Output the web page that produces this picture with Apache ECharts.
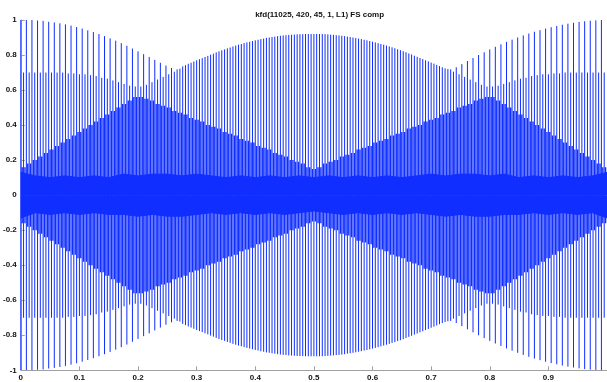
<!DOCTYPE html>
<html>
<head>
<meta charset="utf-8">
<title>kfd(11025, 420, 45, 1, L1) FS comp</title>
<script src="https://cdn.jsdelivr.net/npm/echarts@6/dist/echarts.min.js"></script>
<style>
  html, body { margin: 0; padding: 0; background: #fff; }
  #chart { width: 607px; height: 382px; }
</style>
</head>
<body>
<div id="chart"></div>
<script>
// Pulse peaks repeat every 4 periods of 420 Hz at 11025 Hz => 105 blocks per second.
const blocksPerSecond = 105;

// Peak magnitude of the pulse sampled on-grid (phase offset 0 within each block).
const peakA = [
  1.00, 1.00, 1.00, 0.997, 0.995, 0.99, 0.986, 0.981, 0.975, 0.968,
  0.96, 0.951, 0.941, 0.931, 0.92, 0.908, 0.895, 0.882, 0.868, 0.853,
  0.837, 0.821, 0.805, 0.789, 0.772, 0.756, 0.74, 0.726, 0.718, 0.735,
  0.75, 0.763, 0.776, 0.789, 0.802, 0.815, 0.827, 0.838, 0.849, 0.859,
  0.868, 0.876, 0.884, 0.891, 0.898, 0.903, 0.908, 0.912, 0.915, 0.917,
  0.919, 0.92, 0.92, 0.92, 0.92, 0.918, 0.915, 0.912, 0.908, 0.903,
  0.897, 0.891, 0.884, 0.876, 0.868, 0.859, 0.849, 0.839, 0.828, 0.816,
  0.803, 0.79, 0.777, 0.764, 0.751, 0.737, 0.724, 0.718, 0.73, 0.748,
  0.766, 0.783, 0.8, 0.816, 0.832, 0.847, 0.861, 0.875, 0.888, 0.9,
  0.912, 0.923, 0.933, 0.942, 0.951, 0.959, 0.966, 0.973, 0.979, 0.984,
  0.989, 0.993, 0.996, 0.998, 1.0
];

// Peak magnitude at half-sample phase offset.
const peakB = [
  0.70, 0.70, 0.70, 0.70, 0.70, 0.70, 0.70, 0.70, 0.695, 0.695,
  0.69, 0.69, 0.685, 0.68, 0.67, 0.665, 0.655, 0.645, 0.635, 0.625,
  0.62, 0.62, 0.63, 0.645, 0.66, 0.675, 0.69, 0.705, 0.722, 0.742,
  0.756, 0.77, 0.782, 0.795, 0.808, 0.821, 0.832, 0.843, 0.854, 0.863,
  0.872, 0.88, 0.887, 0.894, 0.9, 0.905, 0.91, 0.913, 0.916, 0.918,
  0.919, 0.92, 0.92, 0.92, 0.919, 0.916, 0.913, 0.91, 0.905, 0.9,
  0.894, 0.887, 0.88, 0.872, 0.863, 0.854, 0.844, 0.833, 0.822, 0.809,
  0.796, 0.783, 0.77, 0.757, 0.744, 0.73, 0.72, 0.705, 0.69, 0.675,
  0.66, 0.645, 0.63, 0.62, 0.62, 0.625, 0.635, 0.645, 0.655, 0.665,
  0.67, 0.68, 0.685, 0.69, 0.69, 0.695, 0.695, 0.70, 0.70, 0.70,
  0.70, 0.70, 0.70, 0.70, 0.70
];

// Peak magnitude at quarter-sample phase offsets (the inner diamond pattern).
const peakC = [
  0.16, 0.18, 0.20, 0.22, 0.24, 0.26, 0.28, 0.30, 0.32, 0.34,
  0.36, 0.38, 0.40, 0.42, 0.44, 0.46, 0.48, 0.50, 0.52, 0.54,
  0.56, 0.56, 0.55, 0.54, 0.52, 0.51, 0.50, 0.48, 0.47, 0.46,
  0.44, 0.43, 0.42, 0.40, 0.39, 0.38, 0.36, 0.35, 0.34, 0.32,
  0.31, 0.30, 0.28, 0.27, 0.26, 0.24, 0.23, 0.22, 0.20, 0.19,
  0.18, 0.16, 0.15, 0.16, 0.18, 0.19, 0.20, 0.22, 0.23, 0.24,
  0.26, 0.27, 0.28, 0.30, 0.31, 0.32, 0.34, 0.35, 0.36, 0.38,
  0.39, 0.40, 0.42, 0.43, 0.44, 0.46, 0.47, 0.48, 0.50, 0.51,
  0.52, 0.54, 0.55, 0.56, 0.56, 0.54, 0.52, 0.50, 0.48, 0.46,
  0.44, 0.42, 0.40, 0.38, 0.36, 0.34, 0.32, 0.30, 0.28, 0.26,
  0.24, 0.22, 0.20, 0.18, 0.16
];

// Low-level ripple between pulses, sampled every 0.025 s.
const rippleTime = [
  0, 0.025, 0.05, 0.075, 0.1, 0.125, 0.15, 0.175, 0.2, 0.225,
  0.25, 0.275, 0.3, 0.325, 0.35, 0.375, 0.4, 0.425, 0.45, 0.475,
  0.5, 0.525, 0.55, 0.575, 0.6, 0.625, 0.65, 0.675, 0.7, 0.725,
  0.75, 0.775, 0.8, 0.825, 0.85, 0.875, 0.9, 0.925, 0.95, 0.975, 1.0
];
const rippleUpper = [
  0.13, 0.11, 0.10, 0.11, 0.10, 0.11, 0.10, 0.12, 0.11, 0.12,
  0.12, 0.11, 0.12, 0.11, 0.10, 0.11, 0.10, 0.11, 0.10, 0.11,
  0.10, 0.11, 0.10, 0.11, 0.10, 0.11, 0.10, 0.11, 0.12, 0.11,
  0.12, 0.12, 0.11, 0.12, 0.10, 0.11, 0.10, 0.11, 0.10, 0.11, 0.13
];
const rippleLower = [
  -0.13, -0.10, -0.11, -0.10, -0.11, -0.10, -0.11, -0.11, -0.12, -0.11,
  -0.12, -0.12, -0.11, -0.10, -0.11, -0.10, -0.11, -0.10, -0.11, -0.10,
  -0.09, -0.10, -0.11, -0.10, -0.11, -0.10, -0.11, -0.10, -0.11, -0.12,
  -0.11, -0.12, -0.12, -0.11, -0.11, -0.10, -0.11, -0.10, -0.11, -0.10, -0.13
];

const xTicks = { min: 0, max: 1, step: 0.1 };
const yTicks = { min: -1, max: 1, step: 0.2 };

const blue = '#0f2eff';
const axisGray = '#a0a0a0';
const fontFamily = '"Liberation Sans", Arial, Helvetica, sans-serif';

// Each pulse is drawn as one vertical stroke from -peak to +peak.
function pulses(values, phase) {
  return values.map((v, k) => [(k + phase) / blocksPerSecond, v]);
}

function pulseSeries(values, phase, width) {
  return {
    type: 'custom',
    renderItem: function (params, api) {
      const x = api.value(0);
      const v = api.value(1);
      const top = api.coord([x, v]);
      const bottom = api.coord([x, -v]);
      return {
        type: 'line',
        shape: { x1: top[0], y1: top[1], x2: bottom[0], y2: bottom[1] },
        style: { stroke: blue, lineWidth: width }
      };
    },
    data: pulses(values, phase),
    clip: true,
    silent: true,
    animation: false
  };
}

function rippleSeries(values) {
  return {
    type: 'line',
    data: rippleTime.map((t, i) => [t, values[i]]),
    showSymbol: false,
    lineStyle: { color: blue, width: 1 },
    areaStyle: { color: blue, opacity: 1, origin: 0 },
    silent: true,
    animation: false
  };
}

const chart = echarts.init(document.getElementById('chart'), null, { renderer: 'canvas' });

chart.setOption({
  animation: false,
  backgroundColor: '#ffffff',
  title: {
    text: 'kfd(11025, 420, 45, 1, L1) FS comp',
    left: 314.6,
    top: 6,
    textAlign: 'center',
    textStyle: { fontSize: 8, fontWeight: 'bold', color: '#111', fontFamily: fontFamily }
  },
  grid: { left: 20.7, right: -1.5, top: 20, bottom: 11.7, containLabel: false },
  xAxis: {
    type: 'value',
    min: xTicks.min,
    max: xTicks.max,
    interval: xTicks.step,
    axisLine: { show: true, onZero: false, lineStyle: { color: axisGray, width: 1 } },
    axisTick: { show: true, inside: true, length: 4, lineStyle: { color: axisGray } },
    axisLabel: { showMaxLabel: false, margin: 3, fontSize: 8, fontWeight: 'bold', color: '#111', fontFamily: fontFamily },
    splitLine: { show: false }
  },
  yAxis: {
    type: 'value',
    min: yTicks.min,
    max: yTicks.max,
    interval: yTicks.step,
    axisLine: { show: true, onZero: false, lineStyle: { color: axisGray, width: 1 } },
    axisTick: { show: true, inside: true, length: 4, lineStyle: { color: axisGray } },
    axisLabel: { margin: 4, fontSize: 8, fontWeight: 'bold', color: '#111', fontFamily: fontFamily },
    splitLine: { show: false }
  },
  series: [
    rippleSeries(rippleUpper),
    rippleSeries(rippleLower),
    pulseSeries(peakC, 0.25, 1.4),
    pulseSeries(peakC, 0.75, 1.4),
    pulseSeries(peakB, 0.5, 1),
    pulseSeries(peakA, 0, 1)
  ]
});
</script>
</body>
</html>
